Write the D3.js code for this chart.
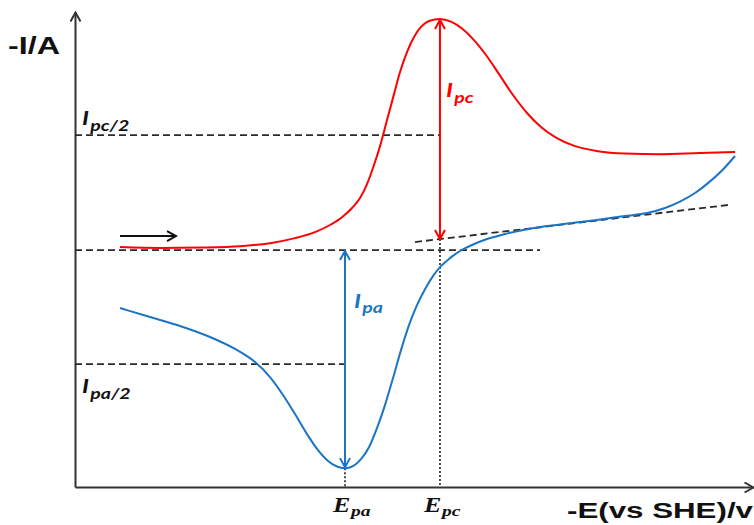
<!DOCTYPE html>
<html>
<head>
<meta charset="utf-8">
<script src="https://cdn.jsdelivr.net/npm/d3@7/dist/d3.min.js"></script>
<style>
  html, body { margin: 0; padding: 0; background: #fff; }
  svg { display: block; }
</style>
</head>
<body>
<svg id="chart" width="754" height="525"></svg>
<script>
// ---------------- DATA (arbitrary units) ----------------
// Cathodic (red) sweep: potential E and current I
const redE = [6.64, 12.54, 18.44, 24.34, 28.76, 32.45, 35.40, 37.61, 39.38, 40.86, 42.04, 43.07, 44.10, 44.99, 46.02, 47.05, 47.94, 48.97, 50.0, 51.03, 52.21, 53.83, 55.46, 57.08, 58.85, 60.62, 62.54, 64.60, 66.67, 68.73, 70.94, 73.75, 77.14, 81.12, 86.28, 92.18, 97.35];
const redI = [0.13, 0.09, 0.11, 0.17, 0.30, 0.52, 0.78, 1.09, 1.43, 1.83, 2.26, 2.87, 3.70, 4.52, 5.65, 6.78, 7.74, 8.61, 9.26, 9.70, 9.96, 10.05, 9.93, 9.63, 9.13, 8.48, 7.65, 6.74, 5.96, 5.35, 4.89, 4.52, 4.30, 4.20, 4.17, 4.22, 4.26];
// Anodic (blue) sweep
const blueE = [6.64, 11.06, 15.49, 19.91, 23.60, 26.55, 28.76, 30.68, 32.45, 34.22, 35.84, 37.32, 38.64, 39.82, 41.0, 42.18, 43.36, 44.54, 45.72, 46.90, 48.08, 49.26, 50.44, 51.62, 52.80, 53.98, 55.31, 56.78, 58.55, 60.77, 63.42, 67.11, 71.53, 76.70, 81.12, 84.37, 87.02, 89.23, 91.45, 93.36, 95.43, 97.35];
const blueI = [-2.52, -2.91, -3.30, -3.78, -4.30, -4.87, -5.52, -6.30, -7.13, -8.0, -8.70, -9.17, -9.41, -9.48, -9.39, -9.09, -8.57, -7.74, -6.74, -5.57, -4.35, -3.26, -2.39, -1.70, -1.13, -0.70, -0.35, -0.04, 0.22, 0.48, 0.70, 0.93, 1.11, 1.30, 1.48, 1.61, 1.83, 2.11, 2.48, 2.91, 3.46, 4.09];

// Characteristic values
const Epa = 39.82, Epc = 53.83;
const Ipc = 10.05, Ipa = -9.48;
const IpcHalf = 5.0, IpaHalf = -4.96;
const baselineEnd = 68.6;
// Extrapolated baseline for the reverse sweep (two points)
const tangentE = [50.15, 96.31];
const tangentI = [0.35, 1.96];
// Scan direction arrow
const scanE = [6.64, 14.9], scanI = 0.61;

// Labels
const yLabel = "-I/A";
const xLabel = "-E(vs SHE)/v";

// ---------------- SCALES ----------------
const svg = d3.select("#chart");
const x = d3.scaleLinear().domain([0, 100]).range([75, 753]);
const y = d3.scaleLinear().domain([-10.3, 10.35]).range([487, 12]);

const tangentAt = e => tangentI[0] + (e - tangentE[0]) * (tangentI[1] - tangentI[0]) / (tangentE[1] - tangentE[0]);

// ---------------- MARKERS ----------------
const defs = svg.append("defs");
function chevron(id, color, size, width) {
  defs.append("marker")
    .attr("id", id)
    .attr("markerUnits", "userSpaceOnUse")
    .attr("viewBox", `0 0 ${size + 2} ${size + 2}`)
    .attr("refX", size)
    .attr("refY", size / 2 + 1)
    .attr("markerWidth", size + 2)
    .attr("markerHeight", size + 2)
    .attr("orient", "auto-start-reverse")
    .append("path")
    .attr("d", `M1,1 L${size},${size / 2 + 1} L1,${size + 1}`)
    .attr("fill", "none")
    .attr("stroke", color)
    .attr("stroke-width", width)
    .attr("stroke-linejoin", "miter");
}
chevron("arAxis", "#333", 10, 2);
chevron("arRed", "#ff0000", 10, 2);
chevron("arBlue", "#1a75c6", 10, 2);
chevron("arBlack", "#111", 10, 2);

const red = "#ff0000", blue = "#1a75c6", dash = "#2a2a2a";

// ---------------- AXES ----------------
const gx = svg.append("g").attr("transform", `translate(0,${y.range()[0]})`)
  .call(d3.axisBottom(x).tickValues([]).tickSizeOuter(0));
gx.select(".domain").attr("stroke", "#333").attr("stroke-width", 2).attr("marker-end", "url(#arAxis)");

const gy = svg.append("g").attr("transform", `translate(${x.range()[0]},0)`)
  .call(d3.axisLeft(y).tickValues([]).tickSizeOuter(0));
gy.select(".domain").attr("stroke", "#333").attr("stroke-width", 2).attr("marker-end", "url(#arAxis)");

// ---------------- REFERENCE LINES ----------------
const dashed = (e1, i1, e2, i2) => svg.append("line")
  .attr("x1", x(e1)).attr("y1", y(i1)).attr("x2", x(e2)).attr("y2", y(i2))
  .attr("stroke", dash).attr("stroke-width", 1.8).attr("stroke-dasharray", "7,4");

dashed(0, IpcHalf, Epc, IpcHalf);
dashed(0, 0, baselineEnd, 0);
dashed(0, IpaHalf, Epa, IpaHalf);
dashed(tangentE[0], tangentI[0], tangentE[1], tangentI[1]);

const dotted = (e, i1, i2) => svg.append("line")
  .attr("x1", x(e)).attr("y1", y(i1)).attr("x2", x(e)).attr("y2", y(i2))
  .attr("stroke", "#222").attr("stroke-width", 1.6).attr("stroke-dasharray", "2,2");
dotted(Epc, tangentAt(Epc), y.domain()[0]);
dotted(Epa, Ipa, y.domain()[0]);

// ---------------- CURVES ----------------
const line = d3.line().x(d => x(d[0])).y(d => y(d[1])).curve(d3.curveMonotoneX);
svg.append("path").datum(redE.map((e, i) => [e, redI[i]]))
  .attr("d", line).attr("fill", "none").attr("stroke", red).attr("stroke-width", 2);
svg.append("path").datum(blueE.map((e, i) => [e, blueI[i]]))
  .attr("d", line).attr("fill", "none").attr("stroke", blue).attr("stroke-width", 2);

// ---------------- PEAK ARROWS ----------------
svg.append("line")
  .attr("x1", x(Epc)).attr("y1", y(Ipc) + 1).attr("x2", x(Epc)).attr("y2", y(tangentAt(Epc)))
  .attr("stroke", red).attr("stroke-width", 2)
  .attr("marker-start", "url(#arRed)").attr("marker-end", "url(#arRed)");
svg.append("line")
  .attr("x1", x(Epa)).attr("y1", y(0) + 1).attr("x2", x(Epa)).attr("y2", y(Ipa) - 1)
  .attr("stroke", blue).attr("stroke-width", 2)
  .attr("marker-start", "url(#arBlue)").attr("marker-end", "url(#arBlue)");
svg.append("line")
  .attr("x1", x(scanE[0])).attr("y1", y(scanI)).attr("x2", x(scanE[1])).attr("y2", y(scanI))
  .attr("stroke", "#111").attr("stroke-width", 2)
  .attr("marker-end", "url(#arBlack)");

// ---------------- LABELS ----------------
const sans = "Lato, 'Open Sans', sans-serif";
function subLabel(px, py, main, sub, color, mainSize, subSize, dy, sx) {
  const g = svg.append("g").attr("transform", `translate(${px},${py}) scale(${sx},1)`);
  const t = g.append("text").attr("x", 0).attr("y", 0)
    .attr("font-family", sans).attr("font-weight", "bold").attr("font-style", "italic")
    .attr("fill", color);
  t.append("tspan").attr("font-size", mainSize).text(main);
  t.append("tspan").attr("font-size", subSize).attr("dy", dy).attr("dx", 1).text(sub);
}
subLabel(82, 125, "I", "pc/2", "#111", 19, 15, 6, 1.3);
subLabel(82, 393, "I", "pa/2", "#111", 19, 15, 6, 1.3);
subLabel(x(Epc) + 6, 97, "I", "pc", red, 19, 15, 6, 1.3);
subLabel(x(Epa) + 9, 308, "I", "pa", blue, 19, 15, 5, 1.3);

function eLabel(px, sub) {
  const g = svg.append("g").attr("transform", `translate(${px},512) scale(1.3,1)`);
  const t = g.append("text").attr("font-family", "'Liberation Serif', 'DejaVu Serif', serif")
    .attr("font-weight", "bold").attr("font-style", "italic").attr("fill", "#111");
  t.append("tspan").attr("font-size", 20).text("E");
  t.append("tspan").attr("font-size", 15).attr("dy", 4).attr("dx", 0.5).text(sub);
}
eLabel(333, "pa");
eLabel(424, "pc");

svg.append("text").attr("x", 8).attr("y", 54)
  .attr("font-family", "'Liberation Sans', Arial, sans-serif").attr("font-weight", "bold")
  .attr("font-size", 24).attr("fill", "#111")
  .attr("textLength", 52).attr("lengthAdjust", "spacingAndGlyphs")
  .text(yLabel);
svg.append("text").attr("x", 567).attr("y", 518)
  .attr("font-family", "'Liberation Sans', Arial, sans-serif").attr("font-weight", "bold")
  .attr("font-size", 22).attr("fill", "#111")
  .attr("textLength", 186).attr("lengthAdjust", "spacingAndGlyphs")
  .text(xLabel);
</script>
</body>
</html>
